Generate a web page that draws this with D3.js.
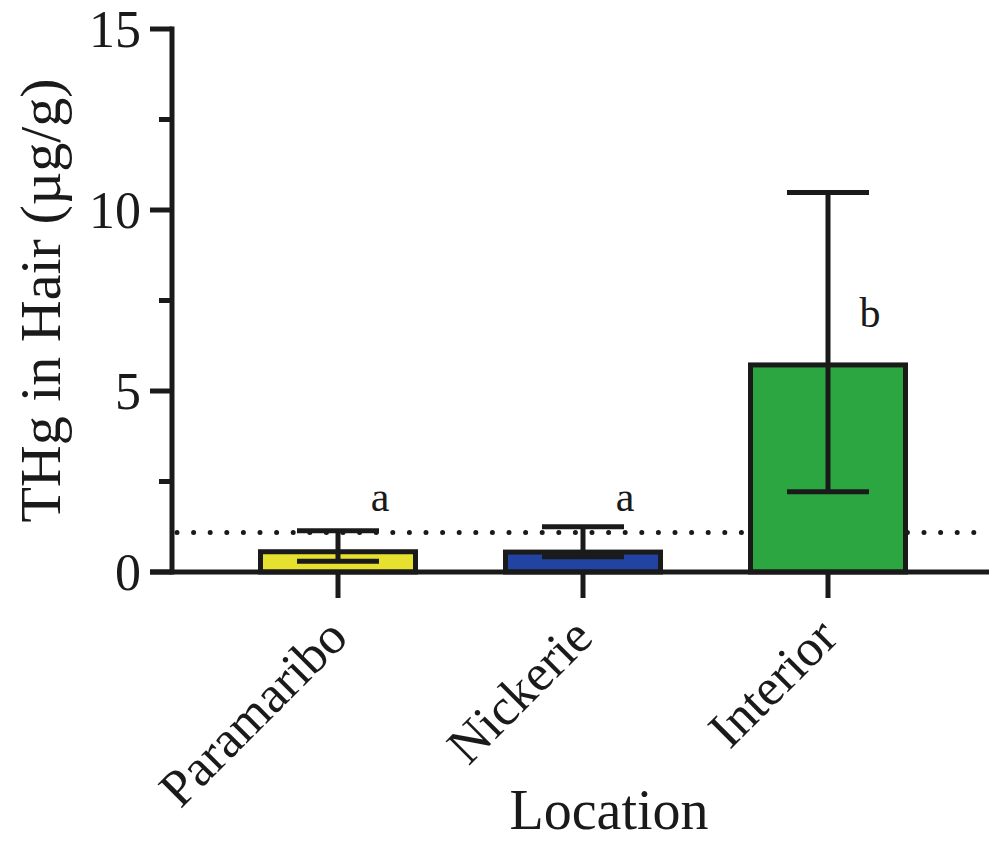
<!DOCTYPE html>
<html>
<head>
<meta charset="utf-8">
<script src="https://cdn.jsdelivr.net/npm/d3@7"></script>
<style>
  html, body { margin: 0; padding: 0; background: #fff; }
  svg { display: block; }
</style>
</head>
<body>
<svg id="chart" width="989" height="844"></svg>
<script>
const categories = ["Paramaribo", "Nickerie", "Interior"];
const means = [0.56, 0.55, 5.72];
const errLow = [0.30, 0.42, 2.22];
const errHigh = [1.14, 1.25, 10.48];
const letters = ["a", "a", "b"];
const barColors = ["#e6e02e", "#2343a3", "#2ca640"];
const yTicks = [0, 5, 10, 15];
const yMinorTicks = [2.5, 7.5, 12.5];
const referenceLevel = 1.09;

const FONT = "'Liberation Serif', Tinos, 'Times New Roman', Times, 'DejaVu Serif', serif";
const svg = d3.select("#chart")
  .attr("font-family", FONT);
const ink = "#1a1a1a";
const axisX = 172, baseY = 572;

const y = d3.scaleLinear().domain([0, 15]).range([baseY, 29]);
const x = d3.scalePoint().domain(categories).range([338, 828]);
const barW = 155, capHalf = 41;

// reference dotted line
svg.append("line")
  .attr("x1", axisX + 5).attr("x2", 989)
  .attr("y1", y(referenceLevel)).attr("y2", y(referenceLevel))
  .attr("stroke", ink).attr("stroke-width", 5)
  .attr("stroke-linecap", "round")
  .attr("stroke-dasharray", "0 16.6");

// bars
svg.selectAll("rect.bar").data(categories).join("rect")
  .attr("class", "bar")
  .attr("x", d => x(d) - barW / 2)
  .attr("width", barW)
  .attr("y", (d, i) => y(means[i]))
  .attr("height", (d, i) => y(0) - y(means[i]))
  .attr("fill", (d, i) => barColors[i])
  .attr("stroke", ink).attr("stroke-width", 5);

// error bars
const eb = svg.selectAll("g.err").data(categories).join("g").attr("class", "err");
eb.append("line")
  .attr("x1", d => x(d)).attr("x2", d => x(d))
  .attr("y1", (d, i) => y(errLow[i])).attr("y2", (d, i) => y(errHigh[i]))
  .attr("stroke", ink).attr("stroke-width", 5);
eb.append("line")
  .attr("x1", d => x(d) - capHalf).attr("x2", d => x(d) + capHalf)
  .attr("y1", (d, i) => y(errHigh[i])).attr("y2", (d, i) => y(errHigh[i]))
  .attr("stroke", ink).attr("stroke-width", 5);
eb.append("line")
  .attr("x1", d => x(d) - capHalf).attr("x2", d => x(d) + capHalf)
  .attr("y1", (d, i) => y(errLow[i])).attr("y2", (d, i) => y(errLow[i]))
  .attr("stroke", ink).attr("stroke-width", 5);

// significance letters
svg.selectAll("text.sig").data(categories).join("text")
  .attr("class", "sig")
  .attr("x", d => x(d) + 42)
  .attr("y", (d, i) => i < 2 ? 511 : 327)
  .attr("text-anchor", "middle")
  .attr("font-size", 42)
  .attr("fill", ink)
  .text((d, i) => letters[i]);

// y axis
const yAxis = svg.append("g");
yAxis.append("line")
  .attr("x1", axisX).attr("x2", axisX)
  .attr("y1", y(15) - 2.5).attr("y2", baseY + 2.5)
  .attr("stroke", ink).attr("stroke-width", 5);
yAxis.selectAll("line.maj").data(yTicks).join("line")
  .attr("class", "maj")
  .attr("x1", axisX - 22).attr("x2", axisX)
  .attr("y1", d => y(d)).attr("y2", d => y(d))
  .attr("stroke", ink).attr("stroke-width", 5);
yAxis.selectAll("line.min").data(yMinorTicks).join("line")
  .attr("class", "min")
  .attr("x1", axisX - 13).attr("x2", axisX)
  .attr("y1", d => y(d)).attr("y2", d => y(d))
  .attr("stroke", ink).attr("stroke-width", 5);
yAxis.selectAll("text.yt").data(yTicks).join("text")
  .attr("class", "yt")
  .attr("x", axisX - 31)
  .attr("y", d => y(d))
  .attr("dy", "0.35em")
  .attr("text-anchor", "end")
  .attr("font-size", 52)
  .attr("fill", ink)
  .text(d => d);

// x axis
svg.append("line")
  .attr("x1", axisX - 22).attr("x2", 989)
  .attr("y1", baseY).attr("y2", baseY)
  .attr("stroke", ink).attr("stroke-width", 5);
svg.selectAll("line.xt").data(categories).join("line")
  .attr("class", "xt")
  .attr("x1", d => x(d)).attr("x2", d => x(d))
  .attr("y1", baseY).attr("y2", baseY + 26)
  .attr("stroke", ink).attr("stroke-width", 5);
svg.selectAll("text.xl").data(categories).join("text")
  .attr("class", "xl")
  .attr("transform", d => `translate(${x(d) + 12},${baseY + 68}) rotate(-45)`)
  .attr("text-anchor", "end")
  .attr("font-size", 52)
  .attr("fill", ink)
  .text(d => d);

// axis titles
svg.append("text")
  .attr("transform", `translate(60,${(y(15) + baseY) / 2}) rotate(-90)`)
  .attr("text-anchor", "middle")
  .attr("font-size", 58)
  .attr("fill", ink)
  .text("THg in Hair (µg/g)");
svg.append("text")
  .attr("x", 609).attr("y", 829)
  .attr("text-anchor", "middle")
  .attr("font-size", 56)
  .attr("fill", ink)
  .text("Location");
</script>
</body>
</html>
